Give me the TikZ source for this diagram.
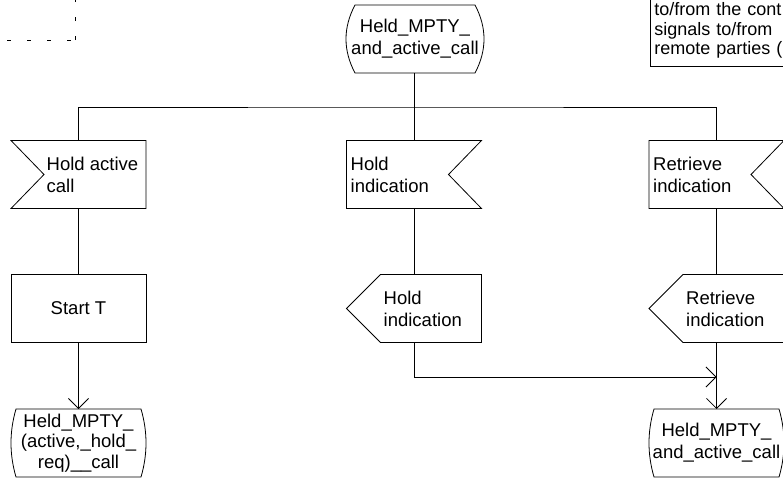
\documentclass[tikz,border=0pt]{standalone}
\usepackage{fontspec}
\setmainfont{Liberation Sans}
\usetikzlibrary{arrows.meta,calc}

\tikzset{
  ln/.style={line width=0.8pt, line join=miter},
  arr/.style={ln, -{Straight Barb[length=10pt,width=20pt,line width=0.8pt]}},
  frame/.style={rectangle, minimum width=135pt, minimum height=68pt,
                inner sep=0pt, outer sep=0pt},
  lbl/.style={inner sep=0pt, align=left, font=\fontsize{18.5}{22}\selectfont},
  ctr/.style={align=center, font=\fontsize{18.5}{22}\selectfont},
}

% SDL state: straight top and bottom, bulging sides (#2 = depth of the bulge)
\newcommand\sdlState[2]{%
  \draw[ln] ($(#1.north west)+(#2,0)$) -- ($(#1.north east)+(-#2,0)$)
    .. controls ($(#1.north east)+(#2/3,22.7)$) and ($(#1.south east)+(#2/3,-22.7)$) .. ($(#1.south east)+(-#2,0)$)
    -- ($(#1.south west)+(#2,0)$)
    .. controls ($(#1.south west)+(-#2/3,-22.7)$) and ($(#1.north west)+(-#2/3,22.7)$) .. cycle;}
% input signal, notch on the left
\newcommand\sdlInL[1]{%
  \draw[ln] (#1.north west) -- (#1.north east) -- (#1.south east) -- (#1.south west)
    -- ($(#1.west)+(33,0)$) -- cycle;}
% input signal, notch on the right
\newcommand\sdlInR[1]{%
  \draw[ln] (#1.north west) -- (#1.north east) -- ($(#1.east)+(-33,0)$)
    -- (#1.south east) -- (#1.south west) -- cycle;}
% output signal, point on the left
\newcommand\sdlOut[1]{%
  \draw[ln] ($(#1.north west)+(34,0)$) -- (#1.north east) -- (#1.south east)
    -- ($(#1.south west)+(34,0)$) -- (#1.west) -- cycle;}

\begin{document}
\begin{tikzpicture}[x=1pt, y=-1pt]
\useasboundingbox (0,0) rectangle (783,482);

% corner of a dashed frame, top left
\draw[ln, dash pattern=on 4pt off 16pt] (7,40) -- (75,40);
\draw[ln, dash pattern=on 4pt off 15pt] (75,40) -- (75,-5);

% legend box, top right
\node[draw, ln, anchor=south west, inner xsep=4pt, inner ysep=8pt, text width=300pt,
      align=left, font=\fontsize{18}{19.5}\selectfont] (note) at (650,67)
  {to/from the cont\\signals to/from\\remote parties (};

% starting state
\node[frame, ctr, minimum width=138pt] (s0) at (415,39) {Held\_MPTY\_\\and\_active\_call};
\sdlState{s0}{9}

% row of inputs
\node[frame] (hac) at (78.5,174.5) {};
\sdlInL{hac}
\node[lbl, anchor=west] (hact) at ($(hac.west)+(35.5,0)$) {Hold active\\call};

\node[frame] (hi) at (414,174.5) {};
\sdlInR{hi}
\node[lbl, anchor=west] (hit) at ($(hi.west)+(4,0)$) {Hold\\indication};

\node[frame] (ri) at (716.5,174.5) {};
\sdlInR{ri}
\node[lbl, anchor=west] (rit) at ($(ri.west)+(4,0)$) {Retrieve\\indication};

% task and outputs
\node[frame, draw, ln, ctr] (st) at (78.5,308.5) {Start T};

\node[frame] (ho) at (414,308.5) {};
\sdlOut{ho}
\node[lbl, anchor=west] (hot) at ($(ho.west)+(37,0)$) {Hold\\indication};

\node[frame] (ro) at (716.5,308.5) {};
\sdlOut{ro}
\node[lbl, anchor=west] (rot) at ($(ro.west)+(37,0)$) {Retrieve\\indication};

% next states
\node[frame, align=center, font=\fontsize{18.5}{20.5}\selectfont] (s1) at (78.5,443)
  {Held\_MPTY\_\\(active,\_hold\_\\req)\_\_call};
\sdlState{s1}{5}
\node[frame, ctr] (s2) at (716.5,443) {Held\_MPTY\_\\and\_active\_call};
\sdlState{s2}{5}

% connectors
\coordinate (bus) at (414,107);
\coordinate (join) at (716.5,377);
\draw[ln] (s0.south -| bus) -- (bus);
\draw[ln] (hac.north) |- (bus) -| (ri.north);
\draw[ln] (bus) -- (hi.north);
\draw[ln] (hac.south) -- (st.north);
\draw[ln] (hi.south) -- (ho.north);
\draw[ln] (ri.south) -- (ro.north);
\draw[arr] (st.south) -- (s1.north);
\draw[arr] (ho.south) |- (join);
\draw[arr] (ro.south) -- (s2.north);
\end{tikzpicture}
\end{document}
